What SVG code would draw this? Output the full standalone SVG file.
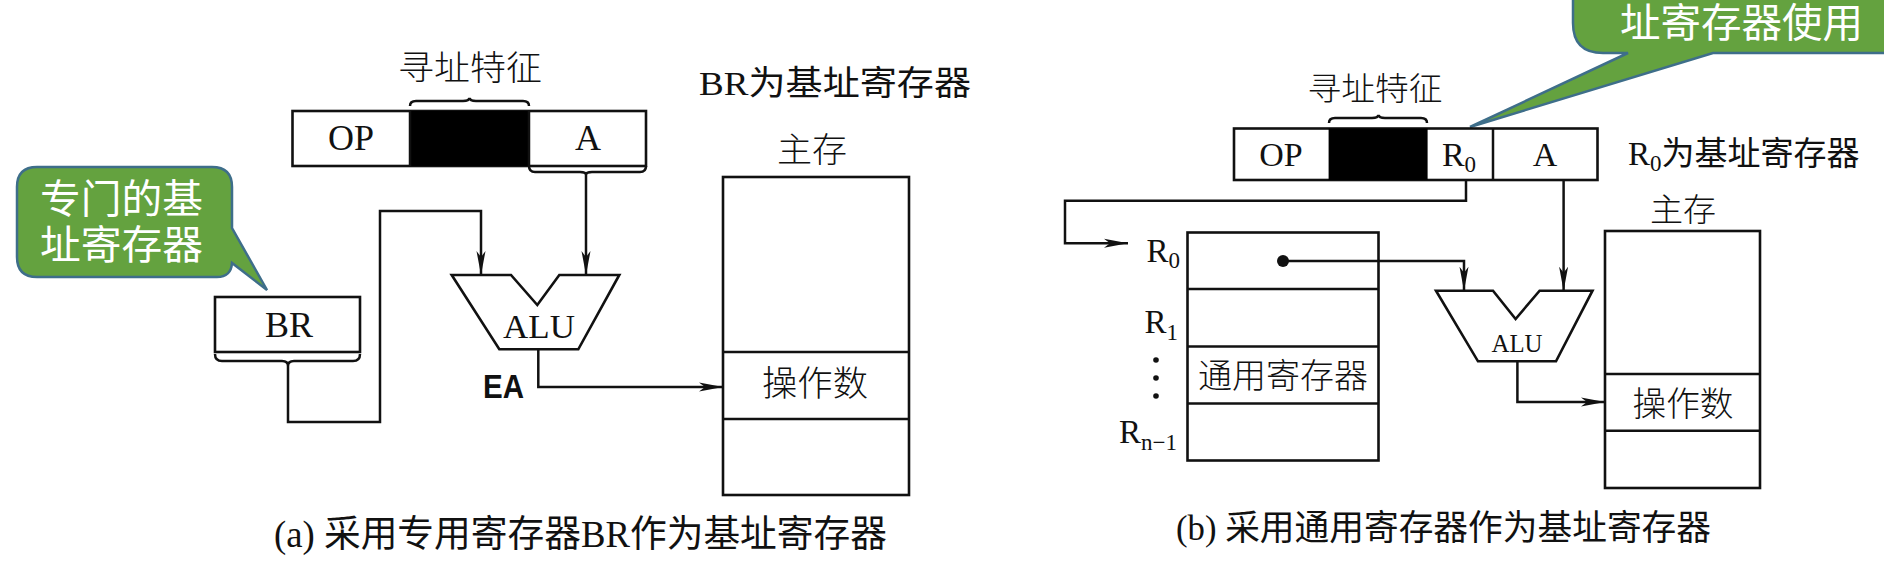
<svg xmlns="http://www.w3.org/2000/svg" width="1884" height="568" viewBox="0 0 1884 568">
<style>
.t{font-family:"Liberation Serif","Noto Sans CJK SC",serif;fill:#111}
.c{font-family:"Noto Sans CJK SC","Liberation Serif",sans-serif;fill:#111;font-weight:300}
.w{font-family:"Noto Sans CJK SC",sans-serif;fill:#fff}
.b{font-family:"Liberation Sans",sans-serif;font-weight:bold;fill:#111}
.box{fill:#fff;stroke:#111;stroke-width:2.6}
.ln{fill:none;stroke:#111;stroke-width:2.5}
.con{fill:none;stroke:#111;stroke-width:2.5}
.call{fill:#64A23F;stroke:#3E6E8A;stroke-width:2.5}
</style>
<defs>
<marker id="arr" markerUnits="userSpaceOnUse" markerWidth="26" markerHeight="10" refX="24" refY="4.5" orient="auto" viewBox="0 0 26 9">
<path d="M0,0 L24,4.5 L0,9 L6,4.5 Z" fill="#111"/>
</marker>
</defs>
<rect width="1884" height="568" fill="#fff"/>

<!-- (a) -->
<g id="a-label-feature">
<text class="c" x="470" y="80" font-size="34" text-anchor="middle" textLength="144" lengthAdjust="spacingAndGlyphs">寻址特征</text>
<path class="ln" d="M410,106 Q410,101 416,101 L463,101 Q469,101 469.5,98 Q470,101 476,101 L523,101 Q529,101 529,106"/>
</g>
<g id="a-instruction">
<rect class="box" x="292.5" y="111" width="353.5" height="55"/>
<rect x="410" y="111" width="119" height="55" fill="#000"/>
<line class="ln" x1="410" y1="111" x2="410" y2="166"/>
<line class="ln" x1="529" y1="111" x2="529" y2="166"/>
<text class="t" x="351" y="150" font-size="36" text-anchor="middle">OP</text>
<text class="t" x="588" y="150" font-size="36" text-anchor="middle">A</text>
<path class="ln" d="M529,166 Q529,172 535,172 L580,172 Q586,172 586,175 Q586,172 592,172 L640,172 Q646,172 646,166"/>
</g>
<g id="a-note">
<text class="t" x="699" y="95" font-size="34" textLength="272" lengthAdjust="spacingAndGlyphs">BR为基址寄存器</text>
</g>
<g id="a-callout">
<path class="call" d="M37,167 H212 Q232,167 232,187 V228 L267,290 L232,263 Q231,277 217,277 H37 Q17,277 17,257 V187 Q17,167 37,167 Z"/>
<text class="w" font-size="40"><tspan x="40" y="213" textLength="163" lengthAdjust="spacingAndGlyphs">专门的基</tspan><tspan x="40" y="259" textLength="163" lengthAdjust="spacingAndGlyphs">址寄存器</tspan></text>
</g>
<g id="a-BR">
<rect class="box" x="215" y="297" width="145" height="55"/>
<text class="t" x="289" y="337" font-size="36" text-anchor="middle">BR</text>
<path class="ln" d="M215,354 Q215,361 222,361 L282,361 Q288,361 288,366 Q288,361 294,361 L353,361 Q360,361 360,354"/>
</g>
<g id="a-ALU">
<polygon class="box" points="451.7,275 511,275 537.3,305 559.3,275 619.3,275 578.3,349.3 499.3,349.3"/>
<text class="t" x="539" y="338" font-size="34" text-anchor="middle" textLength="72" lengthAdjust="spacingAndGlyphs">ALU</text>
</g>
<g id="a-EA">
<text class="b" x="483" y="398" font-size="33" textLength="41" lengthAdjust="spacingAndGlyphs">EA</text>
</g>
<g id="a-memory">
<text class="c" x="812" y="162" font-size="34" text-anchor="middle" textLength="70" lengthAdjust="spacingAndGlyphs">主存</text>
<rect class="box" x="723" y="177" width="186" height="318"/>
<line class="ln" x1="723" y1="352" x2="909" y2="352"/>
<line class="ln" x1="723" y1="419" x2="909" y2="419"/>
<text class="c" x="815" y="396" font-size="35" text-anchor="middle" textLength="106" lengthAdjust="spacingAndGlyphs">操作数</text>
</g>
<g id="a-caption">
<text class="t" x="274" y="547" font-size="37" textLength="613" lengthAdjust="spacingAndGlyphs">(a) 采用专用寄存器BR作为基址寄存器</text>
</g>

<!-- (b) -->
<g id="b-callout">
<path class="call" d="M1573,-30 V23 Q1573,53 1603,53 H1628 L1470,127 L1713,53 H1900 V-30 Z"/>
<text class="w" x="1620" y="37" font-size="40" textLength="243" lengthAdjust="spacingAndGlyphs">址寄存器使用</text>
</g>
<g id="b-label-feature">
<text class="c" x="1375" y="100" font-size="32" text-anchor="middle" textLength="135" lengthAdjust="spacingAndGlyphs">寻址特征</text>
<path class="ln" d="M1329,123 Q1329,118 1335,118 L1372,118 Q1378,118 1378.5,115 Q1379,118 1385,118 L1421,118 Q1427,118 1427,123"/>
</g>
<g id="b-instruction">
<rect class="box" x="1234" y="128.5" width="363.5" height="51.5"/>
<rect x="1328.6" y="128.5" width="99" height="51.5" fill="#000"/>
<line class="ln" x1="1493" y1="128.5" x2="1493" y2="180"/>
<text class="t" x="1281" y="166" font-size="34" text-anchor="middle">OP</text>
<text class="t" x="1459" y="166" font-size="34" text-anchor="middle">R<tspan font-size="23" dy="6">0</tspan></text>
<text class="t" x="1545" y="166" font-size="34" text-anchor="middle">A</text>
</g>
<g id="b-note">
<text class="t" x="1628" y="165" font-size="33">R<tspan font-size="23" dy="6">0</tspan><tspan dy="-6">为基址寄存器</tspan></text>
</g>
<g id="b-registers">
<rect class="box" x="1187.5" y="232.5" width="191" height="228"/>
<line class="ln" x1="1187.5" y1="289" x2="1378.5" y2="289"/>
<line class="ln" x1="1187.5" y1="346.5" x2="1378.5" y2="346.5"/>
<line class="ln" x1="1187.5" y1="403.5" x2="1378.5" y2="403.5"/>
<text class="c" x="1283" y="388" font-size="34" text-anchor="middle" textLength="170" lengthAdjust="spacingAndGlyphs">通用寄存器</text>
<text class="t" x="1180" y="262" font-size="33" text-anchor="end">R<tspan font-size="23" dy="6">0</tspan></text>
<text class="t" x="1178" y="333" font-size="33" text-anchor="end">R<tspan font-size="23" dy="7">1</tspan></text>
<circle cx="1156" cy="360" r="2.8" fill="#111"/>
<circle cx="1156" cy="378" r="2.8" fill="#111"/>
<circle cx="1156" cy="396" r="2.8" fill="#111"/>
<text class="t" x="1177" y="443" font-size="33" text-anchor="end">R<tspan font-size="23" dy="7">n−1</tspan></text>
</g>
<g id="b-ALU">
<polygon class="box" points="1436,290.7 1493,290.7 1515.6,319 1539.6,290.7 1592.5,290.7 1556,361.3 1478,361.3"/>
<text class="t" x="1517" y="352" font-size="25" text-anchor="middle" textLength="51" lengthAdjust="spacingAndGlyphs">ALU</text>
</g>
<g id="b-memory">
<text class="c" x="1683" y="221" font-size="32" text-anchor="middle" textLength="66" lengthAdjust="spacingAndGlyphs">主存</text>
<rect class="box" x="1605" y="231" width="155" height="257"/>
<line class="ln" x1="1605" y1="374" x2="1760" y2="374"/>
<line class="ln" x1="1605" y1="430.7" x2="1760" y2="430.7"/>
<text class="c" x="1683" y="416" font-size="34" text-anchor="middle" textLength="101" lengthAdjust="spacingAndGlyphs">操作数</text>
</g>
<g id="b-caption">
<text class="t" x="1176" y="540" font-size="35" textLength="535" lengthAdjust="spacingAndGlyphs">(b) 采用通用寄存器作为基址寄存器</text>
</g>

<g id="connectors">
<path class="con" d="M586,175 V275" marker-end="url(#arr)"/>
<path class="con" d="M288,366 V422 H380 V211 H481 V275" marker-end="url(#arr)"/>
<path class="con" d="M538.3,349.3 V387 H723" marker-end="url(#arr)"/>
<path class="con" d="M1466,180 V200.7 H1065 V243.3 H1128" marker-end="url(#arr)"/>
<circle cx="1283" cy="261" r="6" fill="#111"/>
<path class="con" d="M1283,261 H1464 V290.7" marker-end="url(#arr)"/>
<path class="con" d="M1563.6,180 V290.7" marker-end="url(#arr)"/>
<path class="con" d="M1517.4,361.3 V402 H1605" marker-end="url(#arr)"/>
</g>
</svg>
